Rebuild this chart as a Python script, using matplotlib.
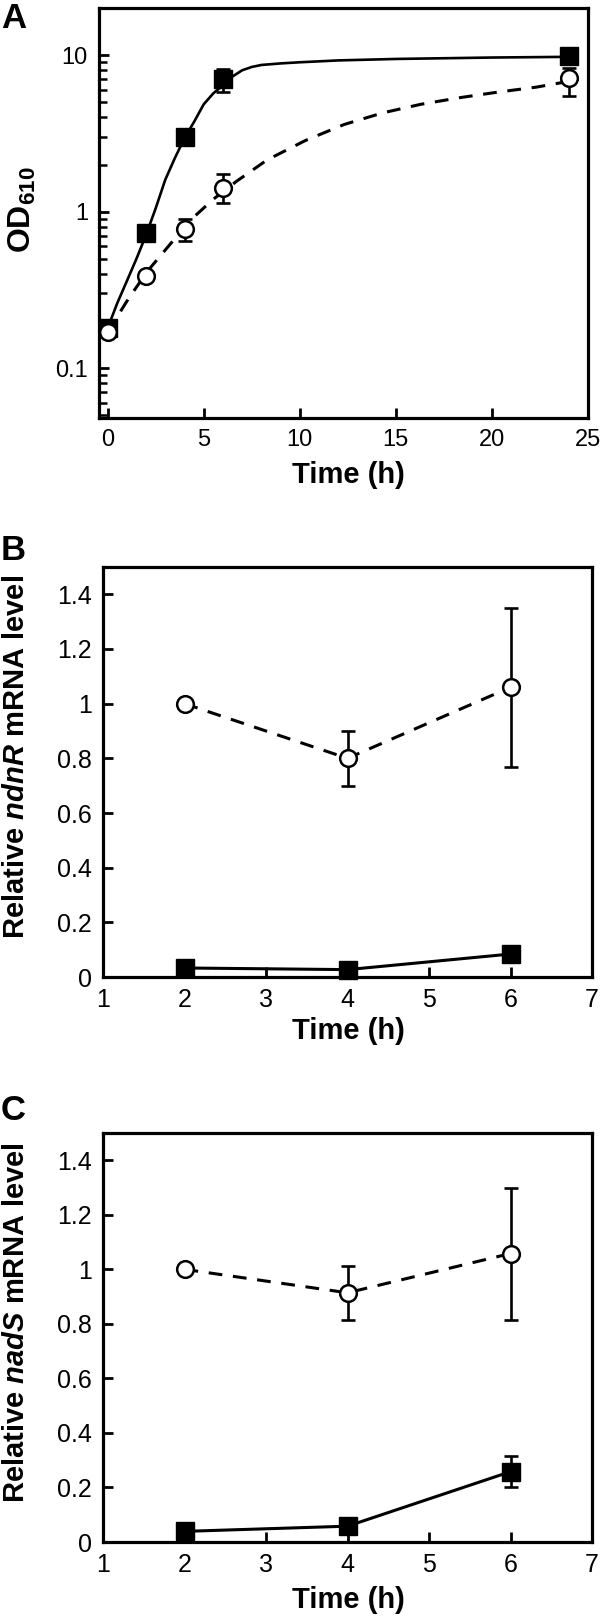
import matplotlib
matplotlib.use("Agg")
import numpy as np
from matplotlib import pyplot as plt

plt.rcParams["font.family"] = ["Liberation Sans", "DejaVu Sans"]
plt.rcParams["mathtext.fontset"] = "custom"
plt.rcParams["mathtext.rm"] = "Liberation Sans"
plt.rcParams["mathtext.bf"] = "Liberation Sans:bold"
plt.rcParams["mathtext.it"] = "Liberation Sans:italic:bold"

# ---- Panel A: growth (OD610) ----
a_time = [0, 2, 4, 6, 24]
a_sq = [0.18, 0.73, 3.0, 7.0, 9.9]
a_sq_lo = [0.18, 0.73, 3.0, 5.85, 9.9]
a_sq_hi = [0.18, 0.73, 3.0, 8.2, 9.9]
a_ci = [0.17, 0.385, 0.77, 1.42, 7.1]
a_ci_lo = [0.17, 0.385, 0.65, 1.14, 5.5]
a_ci_hi = [0.17, 0.385, 0.90, 1.75, 8.3]

# fitted curves
fit_sq_x = [0, 0.5, 1.0, 1.5, 2.0, 2.5, 3.0, 3.5, 4.0, 4.5, 5.0, 5.5, 6.0,
            6.5, 7.0, 7.5, 8.0, 9.0, 10.0, 12.0, 15.0, 20.0, 24.0]
fit_sq_y = [0.18, 0.26, 0.36, 0.50, 0.71, 1.05, 1.6, 2.2, 2.95, 3.75, 4.85,
            5.7, 6.4, 7.3, 8.0, 8.4, 8.65, 8.85, 9.0, 9.25, 9.45, 9.65, 9.75]
fit_ci_x = [0, 1.1, 2.1, 2.9, 4.3, 5.5, 6.7, 8.3, 10.3, 12.3, 14.3, 16.3,
            18.3, 20.3, 22.3, 23.9]
fit_ci_y = [0.17, 0.28, 0.42, 0.55, 0.88, 1.2, 1.56, 2.14, 2.85, 3.6, 4.27,
            4.85, 5.34, 5.8, 6.24, 6.76]

# ---- Panel B: ndnR ----
b_time = [2, 4, 6]
b_ci = [1.0, 0.80, 1.06]
b_ci_lo = [1.0, 0.70, 0.767]
b_ci_hi = [1.0, 0.90, 1.351]
b_sq = [0.033, 0.027, 0.084]

# ---- Panel C: nadS ----
c_time = [2, 4, 6]
c_ci = [1.0, 0.914, 1.058]
c_ci_lo = [1.0, 0.814, 0.814]
c_ci_hi = [1.0, 1.011, 1.30]
c_sq = [0.039, 0.058, 0.258]
c_sq_lo = [0.039, 0.058, 0.20]
c_sq_hi = [0.039, 0.058, 0.317]

W, H = 600, 1618
fig = plt.figure(figsize=(W / 100, H / 100), dpi=100)


def px_axes(left, top, right, bottom):
    return fig.add_axes([left / W, 1 - bottom / H, (right - left) / W, (bottom - top) / H])


def style(ax, size):
    for s in ax.spines.values():
        s.set_linewidth(2.3)
    ax.tick_params(which="major", direction="in", length=7, width=2, pad=8,
                   top=False, right=False, labelsize=size)
    ax.tick_params(which="minor", direction="in", length=5.5, width=1.8,
                   top=False, right=False)


def err(ax, x, y, lo, hi):
    y = np.array(y)
    yerr = [y - np.array(lo), np.array(hi) - y]
    ax.errorbar(x, y, yerr=yerr, fmt="none", ecolor="black", elinewidth=1.9,
                capsize=5, capthick=1.9, zorder=3)


def squares(ax, x, y, ls, lw):
    ax.plot(x, y, ls=ls, color="black", lw=lw, marker="s", ms=13,
            mfc="black", mec="black", zorder=4, clip_on=False)


def circles(ax, x, y):
    ax.plot(x, y, ls="none", marker="o", ms=12, mfc="white", mec="black",
            mew=1.8, zorder=5, clip_on=False)


# Panel A
axA = px_axes(99, 8, 588, 418)
axA.set_yscale("log")
axA.plot(fit_sq_x, fit_sq_y, color="black", lw=1.9, zorder=2)
axA.plot(fit_ci_x, fit_ci_y, color="black", lw=2.2, dashes=(4.5, 3.5), zorder=2)
err(axA, a_time, a_sq, a_sq_lo, a_sq_hi)
err(axA, a_time, a_ci, a_ci_lo, a_ci_hi)
squares(axA, a_time, a_sq, "none", 0)
circles(axA, a_time, a_ci)
axA.set_xlim(-0.45, 25)
axA.set_ylim(0.048, 20)
axA.set_xticks([0, 5, 10, 15, 20, 25])
axA.set_yticks([0.1, 1, 10])
axA.set_yticklabels(["0.1", "1", "10"])
style(axA, 17)

# Panels B and C
for top, bottom, t, ci, lo, hi, sq, gene in [
        (567, 977, b_time, b_ci, b_ci_lo, b_ci_hi, b_sq, "ndnR"),
        (1133, 1542, c_time, c_ci, c_ci_lo, c_ci_hi, c_sq, "nadS")]:
    ax = px_axes(103, top, 592, bottom)
    ax.plot(t, ci, color="black", lw=2.2, dashes=(4.5, 3.5), zorder=2)
    err(ax, t, ci, lo, hi)
    if gene == "nadS":
        err(ax, t, sq, c_sq_lo, c_sq_hi)
    squares(ax, t, sq, "-", 2.2)
    circles(ax, t, ci)
    ax.set_xlim(1, 7)
    ax.set_ylim(0, 1.5)
    ax.set_xticks([1, 2, 3, 4, 5, 6, 7])
    ax.set_yticks([0, 0.2, 0.4, 0.6, 0.8, 1.0, 1.2, 1.4])
    ax.set_yticklabels(["0", "0.2", "0.4", "0.6", "0.8", "1", "1.2", "1.4"])
    style(ax, 18)
    fig.text(16 / W, 1 - (top + 190) / H,
             r"Relative $\mathit{" + gene + r"}$ mRNA level",
             rotation=90, ha="center", va="center", fontsize=21, fontweight="bold")

# axis titles
fig.text(22 / W, 1 - 210 / H, r"$\mathbf{OD}_{\mathbf{610}}$", rotation=90,
         ha="center", va="center", fontsize=23)
for y in [475, 1031, 1600]:
    fig.text(348 / W, 1 - y / H, "Time (h)", ha="center", va="center",
             fontsize=21, fontweight="bold")

# panel letters
for letter, y in [("A", 19), ("B", 550), ("C", 1111)]:
    fig.text(1 / W, 1 - y / H, letter, ha="left", va="center",
             fontsize=25, fontweight="bold")

fig.savefig("out.png", dpi=100)
